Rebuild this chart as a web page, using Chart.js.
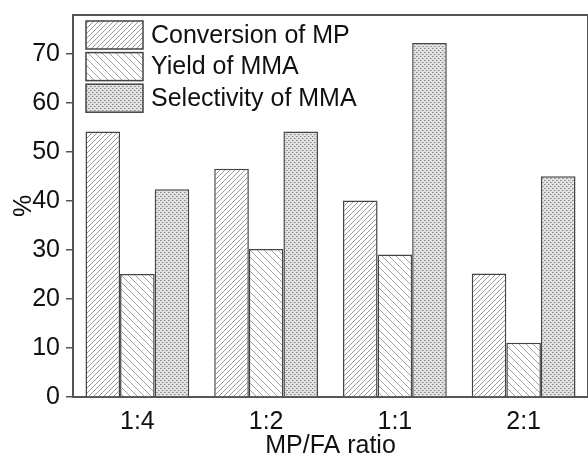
<!DOCTYPE html>
<html>
<head>
<meta charset="utf-8">
<script src="https://cdn.jsdelivr.net/npm/chart.js@4/dist/chart.umd.min.js"></script>
<style>
  body { margin: 0; background: #fff; }
  #wrap { width: 588px; height: 457px; }
</style>
</head>
<body>
<div id="wrap"><canvas id="chart" width="588" height="457"></canvas></div>
<script>
// Data
const ratios = ['1:4', '1:2', '1:1', '2:1'];
const conversionMP = [54.2, 46.6, 40.1, 25.2];
const yieldMMA = [25.1, 30.2, 29.1, 11.1];
const selectivityMMA = [42.4, 54.2, 72.3, 45.1];
const seriesNames = ['Conversion of MP', 'Yield of MMA', 'Selectivity of MMA'];

const FONT = 'Liberation Sans, Arial, sans-serif';
const AXIS = '#555';

// Make a small tile and turn it into a canvas pattern
function makePattern(kind) {
    const c = document.createElement('canvas');
    const ctx = c.getContext('2d');
    if (kind === 'dots') {
        c.width = 4; c.height = 4;
        ctx.fillStyle = '#e2e2e2';
        ctx.fillRect(0, 0, 4, 4);
        ctx.fillStyle = '#888';
        ctx.fillRect(0, 0, 1, 1);
        ctx.fillRect(2, 2, 1, 1);
        ctx.fillStyle = '#b0b0b0';
        ctx.fillRect(1, 0, 1, 1);
        ctx.fillRect(3, 2, 1, 1);
        return ctx.createPattern(c, 'repeat');
    }
    const s = kind === 'fwd' ? 5 : 7;
    c.width = s; c.height = s;
    ctx.fillStyle = '#fff';
    ctx.fillRect(0, 0, s, s);
    ctx.strokeStyle = kind === 'fwd' ? '#999' : '#a0a0a0';
    ctx.lineWidth = 1;
    ctx.beginPath();
    if (kind === 'fwd') {
        ctx.moveTo(0, s); ctx.lineTo(s, 0);
        ctx.moveTo(-1, 1); ctx.lineTo(1, -1);
        ctx.moveTo(s - 1, s + 1); ctx.lineTo(s + 1, s - 1);
    } else {
        ctx.moveTo(0, 0); ctx.lineTo(s, s);
        ctx.moveTo(-1, s - 1); ctx.lineTo(1, s + 1);
        ctx.moveTo(s - 1, -1); ctx.lineTo(s + 1, 1);
    }
    ctx.stroke();
    return ctx.createPattern(c, 'repeat');
}

const fills = [makePattern('fwd'), makePattern('back'), makePattern('dots')];

// Frame, minor ticks and the legend inside the plot
const decorPlugin = {
    id: 'decor',
    afterDraw(chart) {
        const ctx = chart.ctx;
        const a = chart.chartArea;
        const y = chart.scales.y;
        ctx.save();
        ctx.strokeStyle = AXIS;
        ctx.lineWidth = 2;
        ctx.beginPath();
        ctx.moveTo(a.left, a.top);
        ctx.lineTo(a.right, a.top);
        ctx.lineTo(a.right, a.bottom);
        ctx.stroke();

        // minor ticks
        ctx.lineWidth = 1.5;
        y.ticks.forEach(t => {
            if (t.value % 10 !== 0 && t.value % 5 === 0) {
                const py = Math.round(y.getPixelForValue(t.value)) + 0.5;
                ctx.beginPath();
                ctx.moveTo(a.left - 4, py);
                ctx.lineTo(a.left, py);
                ctx.stroke();
            }
        });

        // legend
        ctx.font = '25px ' + FONT;
        ctx.textBaseline = 'middle';
        chart.data.datasets.forEach((ds, i) => {
            const bx = 86, by = 21 + i * 31.6, bw = 57, bh = 28;
            ctx.fillStyle = fills[i];
            ctx.fillRect(bx, by, bw, bh);
            ctx.strokeStyle = '#444';
            ctx.lineWidth = 1.5;
            ctx.strokeRect(bx, by, bw, bh);
            ctx.fillStyle = '#111';
            ctx.fillText(ds.label, 151, by + bh / 2 + 1);
        });
        ctx.restore();
    }
};

new Chart(document.getElementById('chart'), {
    type: 'bar',
    data: {
        labels: ratios,
        datasets: [conversionMP, yieldMMA, selectivityMMA].map((vals, i) => ({
            label: seriesNames[i],
            data: vals,
            backgroundColor: fills[i],
            borderColor: '#444',
            borderWidth: 1.5,
            categoryPercentage: 0.806,
            barPercentage: 1
        }))
    },
    options: {
        responsive: false,
        animation: false,
        layout: { padding: { top: 15, right: 0, left: 0, bottom: 0 } },
        plugins: {
            legend: { display: false },
            tooltip: { enabled: false }
        },
        scales: {
            x: {
                grid: { display: false },
                border: { color: AXIS, width: 2 },
                ticks: { color: '#111', font: { family: FONT, size: 25 }, padding: 2 },
                title: {
                    display: true,
                    text: 'MP/FA ratio',
                    color: '#111',
                    font: { family: FONT, size: 25, lineHeight: 0.85 },
                    padding: { top: 0, bottom: 0 }
                },
                afterFit(scale) { scale.height = 60; }
            },
            y: {
                min: 0,
                max: 78,
                border: { color: AXIS, width: 2 },
                grid: {
                    drawOnChartArea: false,
                    tickLength: 7,
                    lineWidth: 1.5,
                    color: ctx => (ctx.tick && ctx.tick.value % 10 === 0) ? AXIS : 'rgba(0,0,0,0)'
                },
                ticks: {
                    stepSize: 5,
                    color: '#111',
                    padding: 6,
                    font: { family: FONT, size: 25 },
                    callback: v => (v % 10 === 0 ? v : '')
                },
                title: {
                    display: true,
                    text: '%',
                    color: '#111',
                    font: { family: FONT, size: 25 },
                    padding: { top: 9, bottom: 0 }
                },
                afterFit(scale) {
                    scale.width = 73;
                    scale.paddingTop = 0;
                    scale.paddingBottom = 0;
                }
            }
        }
    },
    plugins: [decorPlugin]
});
</script>
</body>
</html>
